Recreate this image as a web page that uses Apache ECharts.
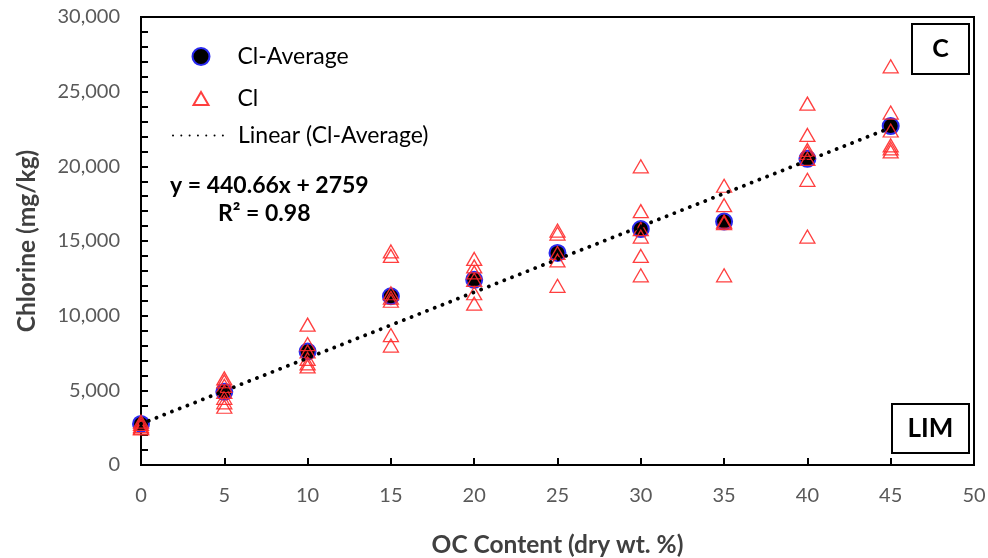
<!DOCTYPE html>
<html>
<head>
<meta charset="utf-8">
<script src="https://cdn.jsdelivr.net/npm/echarts@6/dist/echarts.min.js"></script>
<style>
  html, body { margin: 0; padding: 0; background: #ffffff; }
  #chart { width: 988px; height: 558px; }
</style>
</head>
<body>
<div id="chart"></div>
<script>
// Organic carbon content levels (dry wt. %)
const ocContent = [0, 5, 10, 15, 20, 25, 30, 35, 40, 45];

// Mean chlorine per OC level (mg/kg)
const clAverage = [2750, 4900, 7600, 11300, 12400, 14200, 15800, 16300, 20500, 22700];

// Individual chlorine measurements per OC level (mg/kg)
const clReplicates = [
  [2900, 2750, 2600, 2500, 2450],
  [5800, 5600, 5300, 4900, 4500, 4200, 3900],
  [9400, 8100, 7600, 7100, 6800, 6600],
  [14300, 14000, 11500, 11200, 11000, 8700, 8000],
  [13800, 13300, 12900, 12400, 11500, 10800],
  [15700, 15500, 14200, 13700, 12000],
  [20000, 17000, 15800, 15300, 14000, 12700],
  [18700, 17400, 16300, 16200, 12700],
  [24200, 22100, 21100, 20900, 20500, 19100, 15300],
  [26700, 23600, 22400, 21400, 21200, 21000]
];

// Linear fit of the averages, as printed on the chart
const fitSlope = 440.66;
const fitIntercept = 2759;
const fitR2 = 0.98;
const fitRange = [0, 45];

const FONT = 'Lato';

const avgPoints = ocContent.map((x, i) => [x, clAverage[i]]);
const replicatePoints = [];
ocContent.forEach((x, i) => clReplicates[i].forEach(v => replicatePoints.push([x, v])));
const fitPoints = fitRange.map(x => [x, fitSlope * x + fitIntercept]);

const legendText = { fontFamily: FONT, fontSize: 23, color: '#000000' };

const chart = echarts.init(document.getElementById('chart'), null, { renderer: 'canvas' });

chart.setOption({
  backgroundColor: '#ffffff',
  animation: false,
  grid: {
    left: 141, right: 14, top: 17, bottom: 93,
    outerBoundsMode: 'none', containLabel: false,
    show: true, borderColor: '#000000', borderWidth: 2, backgroundColor: 'transparent'
  },
  // one legend block per entry so each key gets its own icon size
  legend: [
    {
      left: 186.5, top: 40, itemWidth: 17, itemHeight: 17,
      textStyle: Object.assign({ padding: [0, 0, 0, 23] }, legendText),
      data: ['Cl-Average']
    },
    {
      left: 187.5, top: 82, itemWidth: 15, itemHeight: 13,
      textStyle: Object.assign({ padding: [0, 0, 0, 24] }, legendText),
      data: ['Cl']
    },
    {
      left: 167, top: 119, itemWidth: 56, itemHeight: 14,
      textStyle: Object.assign({ padding: [0, 0, 0, 4] }, legendText),
      data: [{ name: 'Linear (Cl-Average)', itemStyle: { color: 'rgba(0,0,0,0)', borderWidth: 0, opacity: 0 } }]
    }
  ],
  xAxis: {
    type: 'value', min: 0, max: 50, interval: 5,
    axisLine: { show: true, lineStyle: { color: '#000000', width: 2 } },
    axisTick: { show: true, inside: true, length: 7, lineStyle: { color: '#000000', width: 2 } },
    axisLabel: { fontFamily: FONT, fontSize: 20, color: '#595959', margin: 21 },
    splitLine: { show: false },
    name: 'OC Content (dry wt. %)',
    nameLocation: 'middle', nameGap: 68,
    nameTextStyle: { fontFamily: FONT, fontSize: 24.5, fontWeight: 'bold', color: '#404040' }
  },
  yAxis: {
    type: 'value', min: 0, max: 30000, interval: 5000,
    axisLine: { show: true, lineStyle: { color: '#000000', width: 2 } },
    axisTick: { show: true, inside: true, length: 7, lineStyle: { color: '#000000', width: 2 } },
    minorTick: { show: true, splitNumber: 5, length: 7, lineStyle: { color: '#000000', width: 2 } },
    axisLabel: {
      fontFamily: FONT, fontSize: 20, color: '#595959', margin: 21,
      formatter: v => v.toLocaleString('en-US')
    },
    splitLine: { show: false },
    name: 'Chlorine (mg/kg)',
    nameLocation: 'middle', nameGap: 101,
    nameTextStyle: { fontFamily: FONT, fontSize: 24.5, fontWeight: 'bold', color: '#404040' }
  },
  series: [
    {
      name: 'Cl-Average',
      type: 'scatter',
      data: avgPoints,
      symbol: 'circle',
      symbolSize: 16,
      itemStyle: { color: '#000000', borderColor: '#2a2af0', borderWidth: 2, opacity: 1 },
      z: 2
    },
    {
      name: 'Cl',
      type: 'scatter',
      data: replicatePoints,
      symbol: 'triangle',
      symbolSize: [15, 13],
      itemStyle: { color: 'rgba(255,255,255,0)', borderColor: '#ff2a2a', borderWidth: 1.3, opacity: 0.9 },
      z: 3
    },
    {
      name: 'Linear (Cl-Average)',
      type: 'line',
      data: fitPoints,
      symbol: 'none',
      lineStyle: { color: '#000000', width: 3.8, type: [0.01, 8.3], cap: 'round' },
      z: 4
    }
  ],
  graphic: [
    {
      type: 'text', left: 170, top: 174,
      style: { text: 'y = 440.66x + 2759', font: 'bold 23px ' + FONT, fill: '#000000' }
    },
    {
      type: 'text', left: 218, top: 202,
      style: { text: 'R² = ' + fitR2.toFixed(2), font: 'bold 23px ' + FONT, fill: '#000000' }
    },
    {
      type: 'group', left: 911, top: 23,
      children: [
        { type: 'rect', shape: { x: 0, y: 0, width: 57, height: 50 },
          style: { fill: '#ffffff', stroke: '#000000', lineWidth: 2 } },
        { type: 'text', x: 28.5, y: 25,
          style: { text: 'C', font: 'bold 25px ' + FONT, fill: '#000000', align: 'center', verticalAlign: 'middle' } }
      ]
    },
    {
      type: 'group', left: 891, top: 403,
      children: [
        { type: 'rect', shape: { x: 0, y: 0, width: 77, height: 49 },
          style: { fill: '#ffffff', stroke: '#000000', lineWidth: 2 } },
        { type: 'text', x: 38.5, y: 24.5,
          style: { text: 'LIM', font: 'bold 26px ' + FONT, fill: '#000000', align: 'center', verticalAlign: 'middle' } }
      ]
    }
  ]
});
</script>
</body>
</html>
